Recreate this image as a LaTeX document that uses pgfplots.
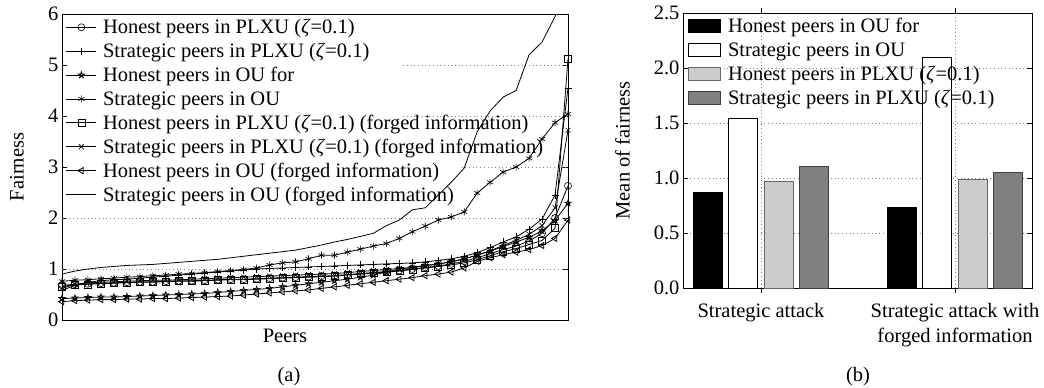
\documentclass[border=0pt]{standalone}
\usepackage{pgfplots}
\usepackage{pgfplotstable}
\pgfplotsset{compat=1.18}
\usepackage{fontspec}
\setmainfont{Liberation Serif}
\newcommand{\fs}{\fontsize{20.5}{25}\selectfont}
\newcommand{\ls}{\rule[-5pt]{0pt}{19.5pt}}

\pgfdeclareplotmark{pentagram}{%
  \pgfpathmoveto{\pgfqpointpolar{90}{\pgfplotmarksize}}%
  \pgfpathlineto{\pgfqpointpolar{234}{\pgfplotmarksize}}%
  \pgfpathlineto{\pgfqpointpolar{18}{\pgfplotmarksize}}%
  \pgfpathlineto{\pgfqpointpolar{162}{\pgfplotmarksize}}%
  \pgfpathlineto{\pgfqpointpolar{306}{\pgfplotmarksize}}%
  \pgfpathclose
  \pgfusepathqstroke
}

\pgfplotstableread{
i circ plus star ast sq xx tri solid
1 0.68 0.58 0.42 0.76 0.66 0.62 0.36 0.90
2 0.70 0.68 0.43 0.78 0.69 0.70 0.38 0.96
3 0.71 0.74 0.44 0.79 0.70 0.73 0.39 1.00
4 0.72 0.77 0.45 0.81 0.71 0.74 0.40 1.03
5 0.73 0.79 0.45 0.82 0.72 0.75 0.40 1.05
6 0.74 0.80 0.46 0.84 0.73 0.76 0.41 1.07
7 0.75 0.82 0.47 0.85 0.74 0.77 0.41 1.08
8 0.75 0.84 0.48 0.87 0.74 0.78 0.42 1.09
9 0.76 0.86 0.49 0.88 0.75 0.78 0.42 1.11
10 0.77 0.88 0.50 0.90 0.76 0.79 0.43 1.13
11 0.77 0.90 0.51 0.91 0.76 0.80 0.44 1.15
12 0.78 0.92 0.52 0.93 0.77 0.81 0.45 1.17
13 0.79 0.94 0.54 0.95 0.78 0.82 0.46 1.19
14 0.80 0.96 0.56 0.97 0.79 0.83 0.47 1.22
15 0.80 0.98 0.58 0.99 0.79 0.84 0.49 1.25
16 0.81 1.00 0.60 1.02 0.80 0.85 0.51 1.28
17 0.82 1.01 0.62 1.08 0.81 0.86 0.53 1.31
18 0.83 1.02 0.65 1.12 0.82 0.87 0.55 1.34
19 0.84 1.03 0.68 1.14 0.83 0.88 0.57 1.37
20 0.85 1.04 0.71 1.20 0.84 0.89 0.59 1.42
21 0.86 1.05 0.74 1.27 0.85 0.90 0.62 1.47
22 0.87 1.06 0.77 1.27 0.86 0.91 0.65 1.53
23 0.89 1.07 0.80 1.33 0.88 0.93 0.68 1.58
24 0.91 1.08 0.84 1.39 0.90 0.95 0.71 1.64
25 0.93 1.09 0.88 1.45 0.92 0.97 0.74 1.70
26 0.95 1.10 0.94 1.50 0.94 0.99 0.77 1.85
27 0.97 1.11 1.00 1.60 0.96 1.01 0.80 1.96
28 1.00 1.12 1.03 1.73 0.99 1.03 0.83 2.16
29 1.03 1.14 1.07 1.84 1.02 1.06 0.87 2.20
30 1.06 1.17 1.10 1.96 1.05 1.10 0.90 2.45
31 1.10 1.20 1.14 2.02 1.08 1.14 0.94 2.70
32 1.15 1.25 1.20 2.12 1.12 1.20 1.02 2.98
33 1.22 1.32 1.27 2.49 1.18 1.27 1.15 3.69
34 1.30 1.42 1.35 2.70 1.26 1.36 1.22 4.10
35 1.38 1.53 1.44 2.90 1.34 1.46 1.28 4.37
36 1.45 1.63 1.53 3.00 1.40 1.56 1.33 4.50
37 1.55 1.78 1.62 3.17 1.48 1.68 1.38 5.20
38 1.70 1.98 1.75 3.55 1.56 1.85 1.46 5.45
39 2.00 2.45 1.95 3.87 1.80 2.20 1.60 5.95
40 2.63 4.55 2.29 4.04 5.12 3.72 1.96 6.60
}\fairness

\pgfplotstableread{
g black white light dark
1 0.866 1.543 0.973 1.109
2 0.730 2.094 0.988 1.050
}\means

\begin{document}
\begin{tikzpicture}
\path[use as bounding box] (0,0) rectangle (1044pt,-388pt);

% ---------------- (a) ----------------
\begin{axis}[
  at={(62pt,-320pt)}, anchor=south west, scale only axis,
  width=506pt, height=306pt,
  xmin=1, xmax=40, ymin=0, ymax=6,
  xtick=\empty, ytick={0,1,2,3,4,5,6},
  tick align=inside, major tick length=5pt,
  every tick/.style={black, line width=0.6pt},
  axis line style={line width=0.8pt},
  /pgf/number format/assume math mode=true,
  ticklabel style={font=\fs},
  xlabel={Peers},
  xlabel style={font=\fs, at={(axis description cs:0.4407,-0.075)}, anchor=base, inner sep=0pt},
  ylabel={Fairness},
  ylabel style={font=\fs, at={(axis description cs:-0.075,0.5)}, anchor=south, inner sep=0pt},
  legend style={at={(0,1)}, anchor=north west, xshift=4pt, yshift=-3pt, draw=none, fill=none,
     inner sep=0pt, outer sep=0pt, row sep=3.4pt, column sep=4pt, font=\fs, nodes={inner sep=2.25pt}},
  legend cell align=left,
  legend image code/.code={\draw[mark repeat=2,mark phase=2,#1] plot coordinates {(0pt,0pt) (15pt,0pt) (30pt,0pt)};},
  every axis plot/.append style={black, line width=0.8pt, mark size=3.5pt, mark options={solid, line width=0.6pt}},
]
\draw[gray, line width=0.6pt, dash pattern=on 0.8pt off 2.9pt] (axis cs:1,1) -- (axis cs:40,1);
\draw[gray, line width=0.6pt, dash pattern=on 0.8pt off 2.9pt] (axis cs:1,2) -- (axis cs:40,2);
\draw[gray, line width=0.6pt, dash pattern=on 0.8pt off 2.9pt] (axis cs:31.8,3) -- (axis cs:40,3);
\draw[gray, line width=0.6pt, dash pattern=on 0.8pt off 2.9pt] (axis cs:27.3,4) -- (axis cs:40,4);
\draw[gray, line width=0.6pt, dash pattern=on 0.8pt off 2.9pt] (axis cs:27.3,5) -- (axis cs:40,5);

\addplot[mark=o] table[x=i,y=circ] {\fairness};
\addlegendentry{\ls Honest peers in PLXU (\textit{ζ}=0.1)}
\addplot[mark=+] table[x=i,y=plus] {\fairness};
\addlegendentry{\ls Strategic peers in PLXU (\textit{ζ}=0.1)}
\addplot[mark=pentagram] table[x=i,y=star] {\fairness};
\addlegendentry{\ls Honest peers in OU for}
\addplot[mark=asterisk] table[x=i,y=ast] {\fairness};
\addlegendentry{\ls Strategic peers in OU}
\addplot[mark=square] table[x=i,y=sq] {\fairness};
\addlegendentry{\ls Honest peers in PLXU (\textit{ζ}=0.1) (forged information)}
\addplot[mark=x] table[x=i,y=xx] {\fairness};
\addlegendentry{\ls Strategic peers in PLXU (\textit{ζ}=0.1) (forged information)}
\addplot[mark=triangle, mark options={rotate=90}] table[x=i,y=tri] {\fairness};
\addlegendentry{\ls Honest peers in OU (forged information)}
\addplot[no marks] table[x=i,y=solid] {\fairness};
\addlegendentry{\ls Strategic peers in OU (forged information)}
\end{axis}

% ---------------- (b) ----------------
\begin{axis}[
  at={(683pt,-288pt)}, anchor=south west, scale only axis,
  width=349pt, height=275pt,
  xmin=0.598, xmax=2.397, ymin=0, ymax=2.5,
  ytick={0,0.5,1,1.5,2,2.5},
  yticklabel style={/pgf/number format/.cd, fixed, fixed zerofill, precision=1},
  xtick={1,2},
  xticklabels={Strategic attack, {Strategic attack with\\forged information}},
  xticklabel style={align=center, inner sep=0pt, yshift=-10pt},
  tick align=inside, major tick length=5pt,
  every tick/.style={black, line width=0.6pt},
  axis line style={line width=0.8pt},
  /pgf/number format/assume math mode=true,
  ticklabel style={font=\fs},
  ylabel={Mean of fairness},
  ylabel style={font=\fs, at={(axis description cs:-0.152,0.5)}, anchor=south, inner sep=0pt},
  ymajorgrids, xmajorgrids,
  grid style={gray, line width=0.6pt, dash pattern=on 0.8pt off 2.9pt},
  ybar=6.5pt, bar width=29pt,
  legend style={at={(0,1)}, anchor=north west, xshift=5pt, yshift=-3pt, draw=none, fill=none,
     inner sep=0pt, outer sep=0pt, row sep=3.4pt, column sep=5pt, font=\fs, nodes={inner sep=2.25pt}},
  legend cell align=left,
  legend image code/.code={\draw[#1] (0pt,-6.5pt) rectangle (32pt,6.5pt);},
]
\addplot[draw=black, fill=black, line width=0.6pt] table[x=g,y=black] {\means};
\addlegendentry{\ls Honest peers in OU for}
\addplot[draw=black, fill=white, line width=0.8pt] table[x=g,y=white] {\means};
\addlegendentry{\ls Strategic peers in OU}
\addplot[draw=black!60, fill=black!20, line width=0.8pt] table[x=g,y=light] {\means};
\addlegendentry{\ls Honest peers in PLXU (\textit{ζ}=0.1)}
\addplot[draw=black!75, fill=black!50, line width=0.8pt] table[x=g,y=dark] {\means};
\addlegendentry{\ls Strategic peers in PLXU (\textit{ζ}=0.1)}
\end{axis}

\node[font=\fs, anchor=base] at (289pt,-381pt) {(a)};
\node[font=\fs, anchor=base] at (858pt,-381pt) {(b)};
\end{tikzpicture}
\end{document}
